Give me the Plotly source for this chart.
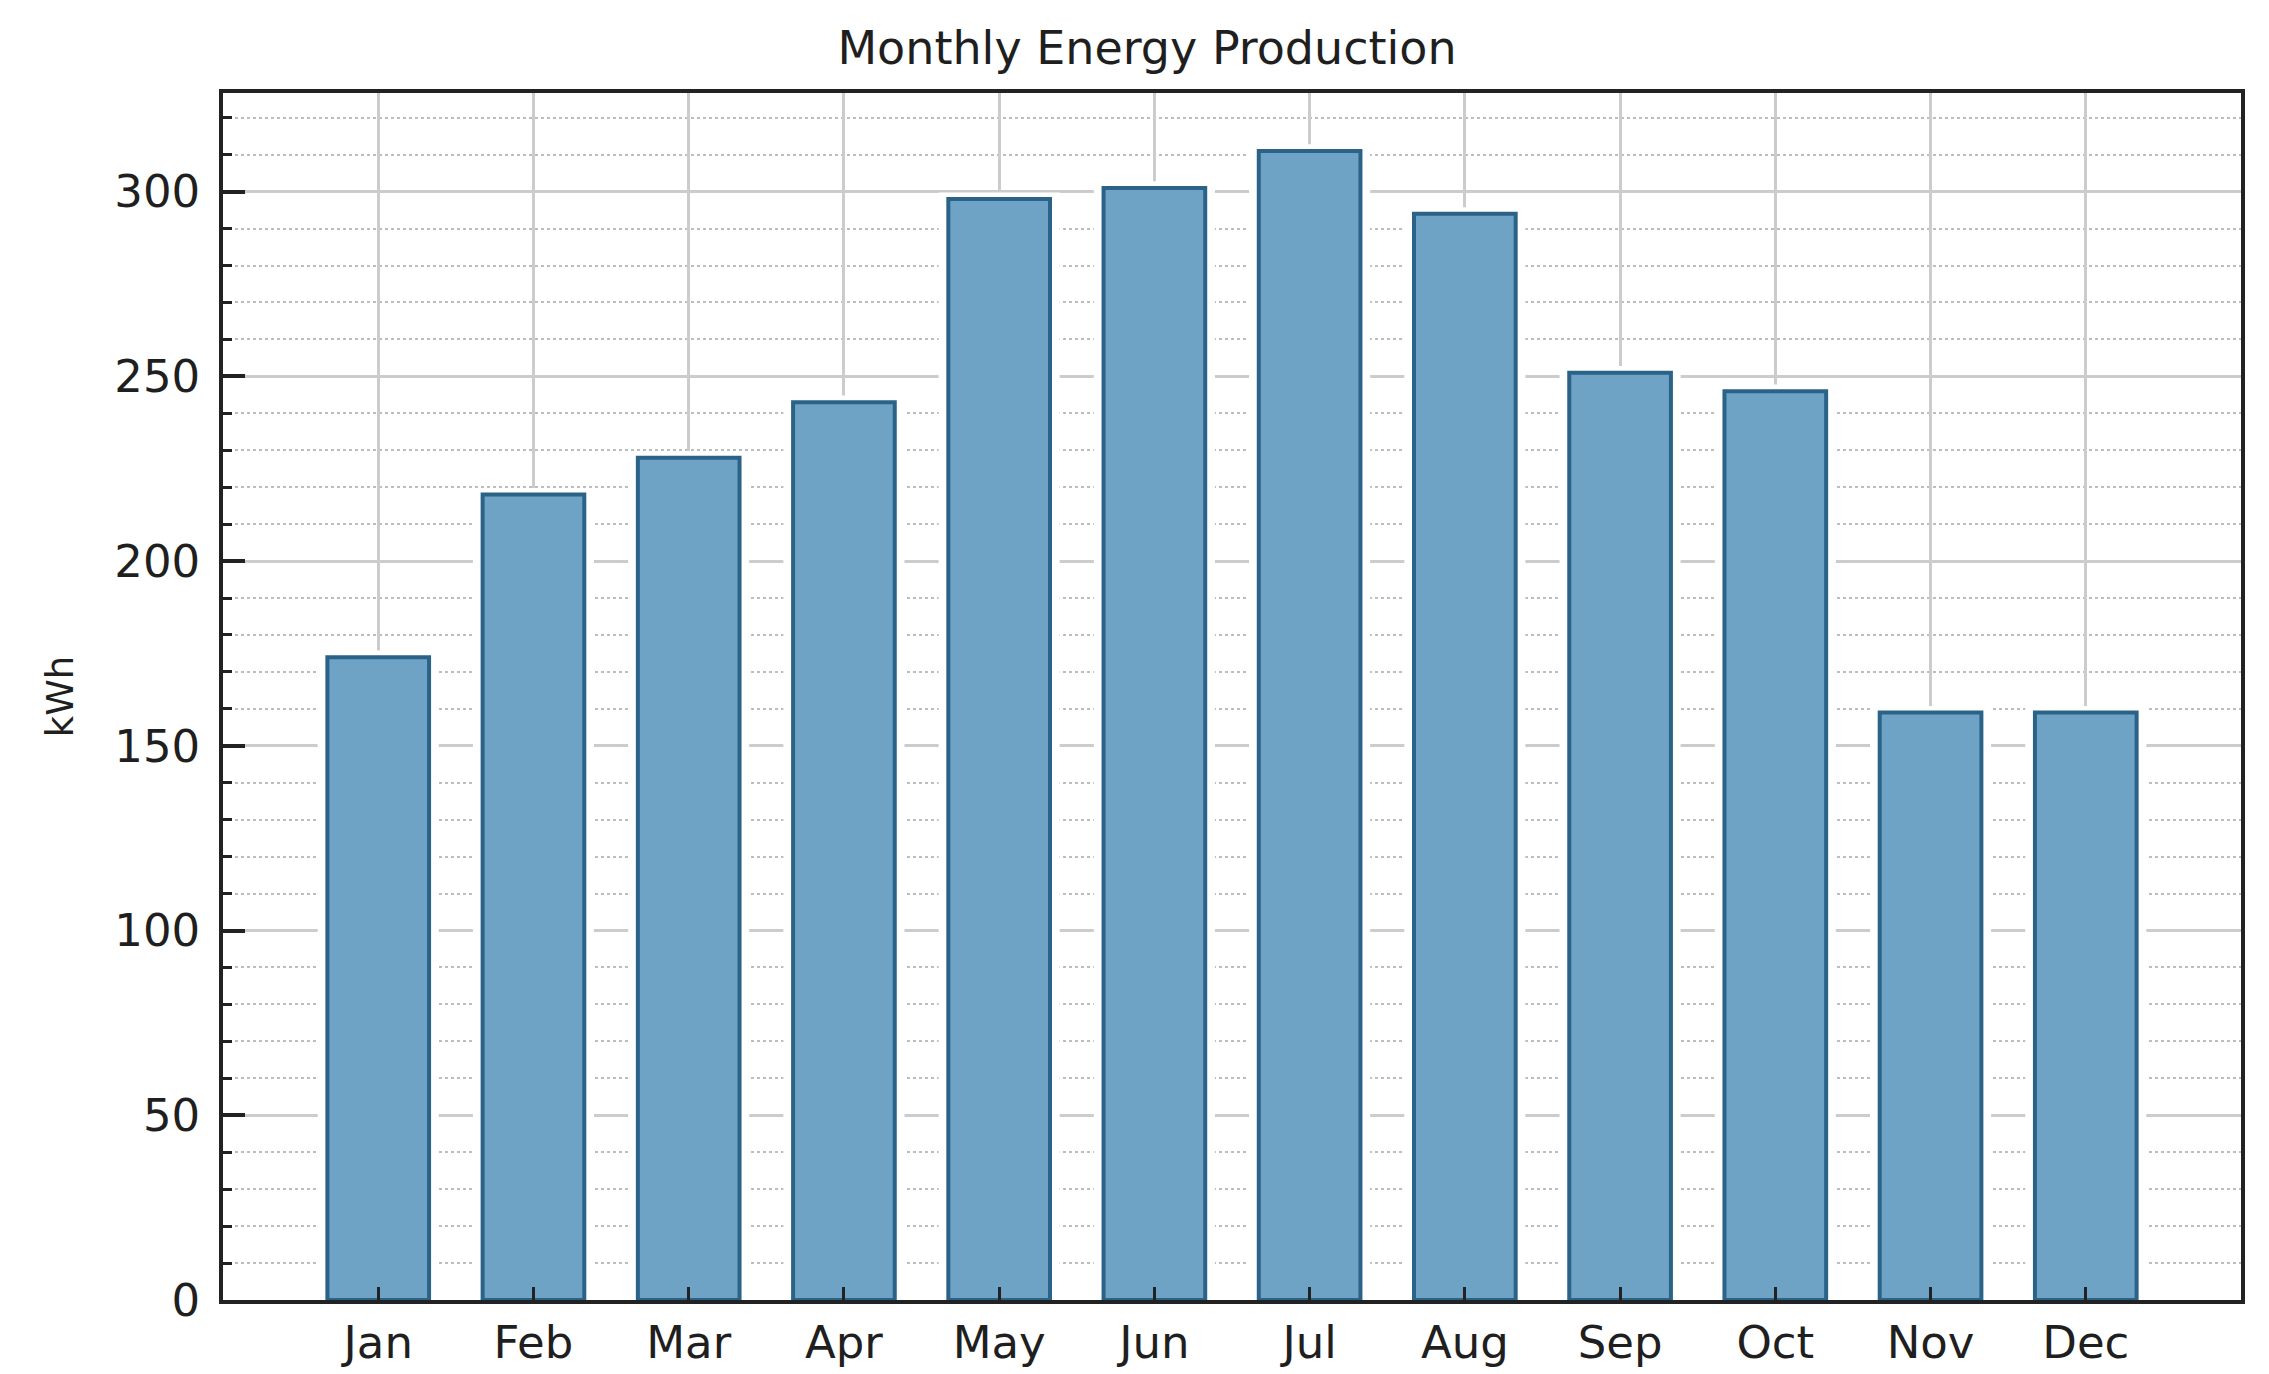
import plotly.graph_objects as go

months = ["Jan", "Feb", "Mar", "Apr", "May", "Jun", "Jul", "Aug", "Sep", "Oct", "Nov", "Dec"]
energy_kwh = [174, 218, 228, 243, 298, 301, 311, 294, 251, 246, 159, 159]

title_text = "Monthly Energy Production"
y_title = "kWh"
y_ticks = [0, 50, 100, 150, 200, 250, 300]

FONT = "DejaVu Sans"
TXT = "#1f1f1f"

fig = go.Figure()

# white halo behind each bar (hides the grid near the bars, as in the reference)
fig.add_trace(go.Bar(
    x=list(range(len(months))),
    y=[v + 1.8 for v in energy_kwh],
    width=0.78,
    marker=dict(color="white", line=dict(width=0)),
    hoverinfo="skip",
    showlegend=False,
))

fig.add_trace(go.Bar(
    x=list(range(len(months))),
    y=energy_kwh,
    width=0.655,
    marker=dict(color="#6fa3c6", line=dict(color="#2a6387", width=4)),
    showlegend=False,
))

fig.update_layout(
    width=2269,
    height=1374,
    barmode="overlay",
    paper_bgcolor="white",
    plot_bgcolor="white",
    margin=dict(l=215, r=36, t=85, b=82),
    title=dict(
        text=title_text,
        x=0.502, xanchor="center", xref="container",
        y=(1374 - 40) / 1374, yref="container", yanchor="middle",
        font=dict(family=FONT, size=46, color=TXT),
    ),
    font=dict(family=FONT, color=TXT),
)

fig.update_xaxes(
    range=[-1, 12],
    tickmode="array",
    tickvals=list(range(len(months))),
    ticktext=months,
    showgrid=True,
    gridcolor="#cccccc",
    gridwidth=2.5,
    showline=True,
    linecolor="#222222",
    linewidth=3.5,
    mirror=True,
    ticks="inside",
    ticklen=13,
    tickwidth=3,
    tickcolor="#222222",
    tickfont=dict(family=FONT, size=45, color=TXT),
    zeroline=False,
)

fig.update_yaxes(
    range=[0, 326.7],
    tickmode="array",
    tickvals=y_ticks,
    ticktext=[str(t) for t in y_ticks],
    showgrid=True,
    gridcolor="#cccccc",
    gridwidth=2.5,
    showline=True,
    linecolor="#222222",
    linewidth=3.5,
    mirror=True,
    ticks="inside",
    ticklen=22,
    tickwidth=3.5,
    tickcolor="#222222",
    tickfont=dict(family=FONT, size=45, color=TXT),
    ticklabelstandoff=10,
    zeroline=False,
    title=dict(text=y_title, font=dict(family=FONT, size=37, color=TXT), standoff=30),
    minor=dict(
        dtick=10,
        showgrid=True,
        gridcolor="#bdbdbd",
        gridwidth=2,
        griddash="dot",
        ticks="inside",
        ticklen=9,
        tickwidth=3,
        tickcolor="#222222",
    ),
)

fig.write_html("out.html")
